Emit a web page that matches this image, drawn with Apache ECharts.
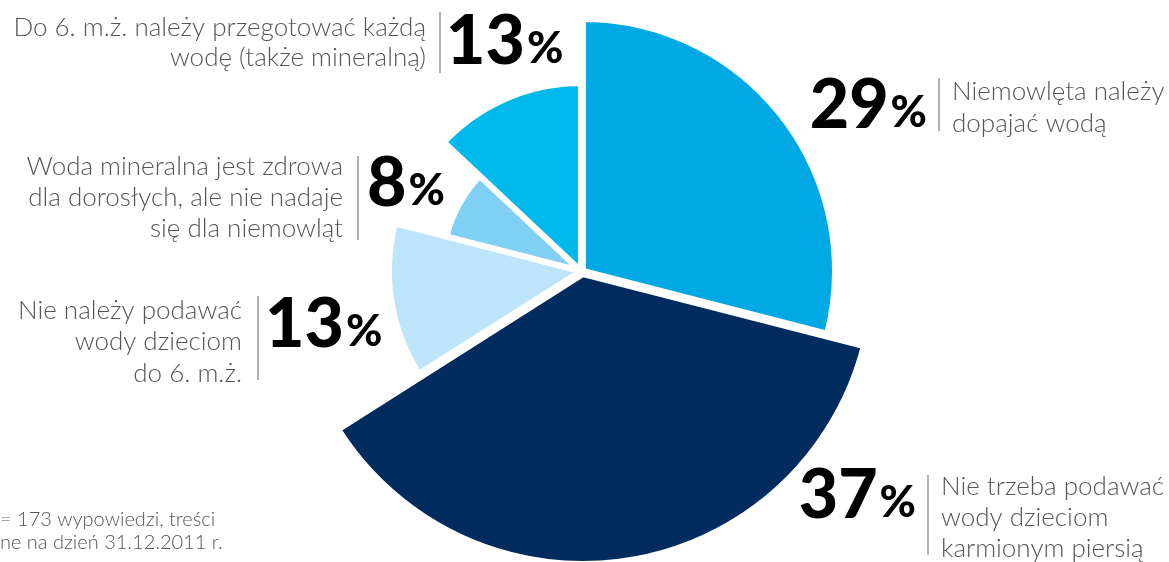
<!DOCTYPE html>
<html>
<head>
<meta charset="utf-8">
<script src="https://cdn.jsdelivr.net/npm/echarts@6/dist/echarts.min.js"></script>
<style>
html,body{margin:0;padding:0;background:#fff;}
#chart{width:1169px;height:562px;}
</style>
</head>
<body>
<div id="chart"></div>
<script>
// ---- data ----
const categories = [
  'Niemowlęta należy\ndopajać wodą',
  'Nie trzeba podawać\nwody dzieciom\nkarmionym piersią',
  'Nie należy podawać\nwody dzieciom\ndo 6. m.ż.',
  'Woda mineralna jest zdrowa\ndla dorosłych, ale nie nadaje\nsię dla niemowląt',
  'Do 6. m.ż. należy przegotować każdą\nwodę (także mineralną)'
];
const values = [29, 37, 13, 8, 13];
const footnote = ['= 173 wypowiedzi, treści', 'ne na dzień 31.12.2011 r.'];

// ---- styling ----
const colors = ['#00a8e4', '#002b5e', '#bee4f9', '#80cff4', '#00b9ec'];
const radii = [252, 290, 192, 139, 188];
const centers = [[583, 271], [583, 274], [581, 271], [581, 271], [581, 271]];

// label placement: [side, descX, descCenterY, lineHeight, sepX, sepY1, sepY2, numX, numBottomY]
const labelPos = [
  ['right', 952, 108, 32, 939, 78, 131, 927, 140],
  ['right', 941, 518, 31, 928, 475, 555, 916, 530],
  ['left', 242, 342, 31.5, 258, 296, 380, 265, 359],
  ['left', 343, 198, 31, 358, 156, 240, 367, 218],
  ['left', 426, 43, 30, 440, 12, 73, 446, 76]
];

const descFont = 'Lato';
const numFont = 'Lato';

const series = values.map(function (v, i) {
  return {
    type: 'pie',
    center: centers[i],
    radius: [0, radii[i]],
    startAngle: 90,
    clockwise: true,
    silent: true,
    animation: false,
    label: {show: false},
    labelLine: {show: false},
    emphasis: {disabled: true},
    data: values.map(function (val, j) {
      return {
        name: categories[j],
        value: val,
        itemStyle: j === i
          ? {color: colors[j], borderColor: '#ffffff', borderWidth: 6}
          : {color: 'rgba(0,0,0,0)', borderWidth: 0}
      };
    })
  };
});

const graphics = [];
labelPos.forEach(function (p, i) {
  const side = p[0];
  graphics.push({
    type: 'text', silent: true,
    style: {
      x: p[1], y: p[2], text: categories[i],
      align: side === 'right' ? 'left' : 'right', verticalAlign: 'middle',
      font: '300 26px ' + descFont, fill: '#555555', lineHeight: p[3]
    }
  });
  graphics.push({
    type: 'line', silent: true,
    shape: {x1: p[4], y1: p[5], x2: p[4], y2: p[6]},
    style: {stroke: '#666666', lineWidth: 1}
  });
  graphics.push({
    type: 'text', silent: true,
    style: {
      x: p[7], y: p[8],
      text: '{n|' + values[i] + '}{p|%}',
      align: side === 'right' ? 'right' : 'left', verticalAlign: 'bottom',
      rich: {
        n: {fontFamily: numFont, fontWeight: 900, fontSize: 68, lineHeight: 68, fill: '#000', verticalAlign: 'bottom'},
        p: {fontFamily: numFont, fontWeight: 900, fontSize: 44, lineHeight: 44, fill: '#000', verticalAlign: 'bottom', padding: [0, 0, 5, 2]}
      }
    }
  });
});
graphics.push({
  type: 'text', silent: true,
  style: {
    x: 0, y: 531, text: footnote.join('\n'),
    align: 'left', verticalAlign: 'middle',
    font: '300 20px ' + descFont, fill: '#555555', lineHeight: 23
  }
});

const chart = echarts.init(document.getElementById('chart'), null, {renderer: 'canvas'});
chart.setOption({
  backgroundColor: '#ffffff',
  animation: false,
  series: series,
  graphic: graphics
});
</script>
</body>
</html>
